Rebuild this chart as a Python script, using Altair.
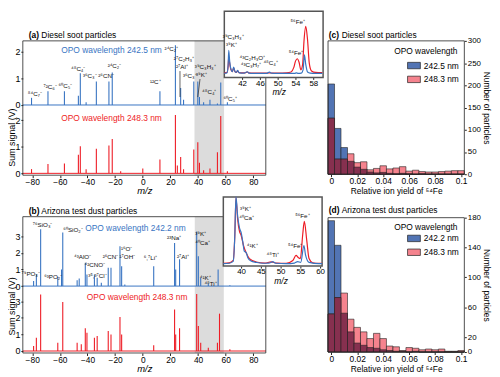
import altair as alt
import pandas as pd

FONT = "Liberation Sans"
BLUE = "#3874c2"
RED = "#ee1c25"
HB = "#5274b4"
HR = "#f5838e"
HO = "#86304f"
W, H = 490, 367

# ---------------- panel (a): diesel soot spectra (peak m/z, height in V) ----------------
a_blue_mz = [-80.5, -68.6, -56.7, -46.6, -45.2, -41.0, -33.6, -24.5, -22.1,
             12.4, 23.6, 27.4, 29.5, 36.9, 39.8, 41.0, 44.0, 48.6, 54.0, 56.4, 61.2]
a_blue_v = [0.27, 0.52, 0.52, 0.35, 1.2, 0.1, 0.89, 0.89, 1.23,
            0.52, 2.25, 0.64, 0.2, 0.89, 0.89, 0.3, 0.1, 0.2, 0.06, 0.85, 0.1]
a_red_mz = [-80.5, -68.6, -56.7, -46.6, -45.2, -41.0, -33.6, -24.5, -22.1, -16.0, 0.0,
            12.4, 23.6, 25.0, 27.4, 29.5, 36.9, 39.8, 41.0, 44.0, 48.6, 54.0, 56.4, 61.2]
a_red_v = [0.16, 0.35, 0.37, 0.7, 1.02, 0.15, 0.93, 1.05, 1.3, 0.08, 0.18,
           0.52, 2.2, 0.3, 0.62, 0.15, 0.9, 1.17, 0.4, 0.12, 0.18, 0.8, 2.16, 0.08]
a_lab_t = ["⁸⁴C₇⁻", "⁷²C₆⁻", "⁶⁰C₅⁻", "⁴⁸C₄⁻", "³⁶C₃⁻ ²⁶CN⁻", "²⁴C₂⁻", "¹²C⁺", "²⁴C₂⁺",
           "²⁷C₂H₃⁺", "²⁷Al⁺", "³⁶C₃⁺", "³⁹C₃H₃⁺", "³⁹K⁺", "⁴⁸C₄⁺", "⁶⁰C₅⁺"]
a_lab_x = [-78.1, -67.1, -56.0, -46.7, -32.1, -20.5, 9.0, 20.7, 29.8, 28.3, 34.0, 45.2, 42.4, 48.1, 63.3]
a_lab_y = [0.42, 0.67, 0.70, 1.35, 1.11, 1.47, 0.86, 2.12, 1.75, 1.44, 1.11, 1.42, 1.14, 0.49, 0.21]

# inset (a)
ia_blue_mz = [38.0, 38.6, 38.85, 39.0, 39.2, 39.5, 39.8, 40.1, 40.4, 40.7, 41.0, 41.3, 41.8, 42.5,
              42.9, 43.2, 43.5, 44.5, 46.0, 47.5, 47.9, 48.2, 48.5, 50.0, 52.0, 53.8, 54.2, 54.6,
              55.3, 55.7, 56.0, 56.3, 56.7, 57.3, 58.5, 60.0]
ia_blue_v = [0.04, 0.06, 0.4, 1.1, 0.6, 0.22, 0.12, 0.33, 0.12, 0.08, 0.18, 0.07, 0.05, 0.05,
             0.09, 0.11, 0.05, 0.04, 0.04, 0.04, 0.07, 0.1, 0.05, 0.04, 0.04, 0.04, 0.06, 0.04,
             0.05, 0.2, 0.89, 0.45, 0.1, 0.05, 0.04, 0.04]
ia_red_mz = [38.0, 38.6, 38.85, 39.0, 39.2, 39.5, 39.8, 40.1, 40.4, 40.7, 41.0, 41.3, 41.8, 42.5,
             42.9, 43.2, 43.5, 44.5, 46.0, 47.5, 48.2, 48.8, 50.0, 52.0, 53.0, 53.6, 54.0, 54.4,
             54.8, 55.2, 55.6, 55.9, 56.3, 56.7, 57.1, 57.6, 58.5, 60.0]
ia_red_v = [0.06, 0.08, 0.35, 0.8, 0.5, 0.2, 0.12, 0.28, 0.12, 0.08, 0.15, 0.07, 0.06, 0.06,
            0.08, 0.1, 0.06, 0.05, 0.05, 0.05, 0.06, 0.05, 0.05, 0.06, 0.1, 0.3, 0.6, 0.71,
            0.55, 0.2, 0.45, 1.5, 2.2, 1.6, 0.5, 0.15, 0.08, 0.07]
ia_lab_t = ["³⁹C₃H₃⁺", "³⁹K⁺", "⁴³C₂H₃O⁺", "⁴³C₃H₇⁺", "⁴⁸C₄⁺", "⁵⁴Fe⁺", "⁵⁶Fe⁺"]
ia_lab_x = [40.0, 39.6, 44.3, 44.0, 48.4, 54.1, 54.5]
ia_lab_y = [1.71, 1.36, 0.75, 0.4, 0.5, 0.99, 2.4]

# ---------------- panel (b): Arizona test dust spectra ----------------
b_blue_mz = [-79.0, -77.0, -73.9, -61.5, -58.8, -57.9, -47.5, -46.0, -41.6, -40.4, -35.0, -33.0,
             -30.0, -25.0, -23.0, -16.5, -15.3, -13.0, 7.9, 23.0, 23.8, 26.6, 39.0, 40.2, 41.9,
             47.4, 54.5, 63.0]
b_blue_v = [0.3, 0.72, 3.42, 0.56, 1.0, 3.23, 0.35, 0.45, 1.4, 0.7, 0.7, 0.5,
            0.2, 1.1, 1.1, 2.4, 1.2, 0.1, 1.2, 2.6, 1.0, 1.62, 3.29, 1.8, 0.5,
            0.15, 1.0, 0.05]
b_red_mz = [-79.0, -77.0, -73.9, -61.5, -57.9, -47.5, -44.5, -41.6, -40.4, -35.0, -33.0, -25.0,
            -23.0, -16.5, -15.3, 7.9, 23.0, 23.8, 26.6, 39.0, 40.2, 41.9, 47.4, 54.0, 55.5, 63.0]
b_red_v = [0.3, 0.8, 3.4, 0.5, 2.95, 0.5, 0.4, 1.37, 1.1, 0.8, 0.9, 1.2,
           1.0, 2.05, 1.0, 0.35, 2.5, 1.0, 1.37, 3.43, 1.5, 0.5, 0.2, 0.5, 2.25, 0.1]
b_lab_t = ["⁷⁹PO₃⁻", "⁷⁶SiO₃⁻", "⁶³PO₂⁻", "⁶⁰SiO₂⁻", "⁴³AlO⁻", "⁴²CNO⁻", "³⁵,³⁷Cl⁻", "²⁶CN⁻",
           "¹⁶O⁻", "¹⁷OH⁻", "⁶,⁷Li⁺", "²³Na⁺", "²⁷Al⁺", "³⁹K⁺", "⁴⁰Ca⁺", "⁴¹K⁺", "⁴⁸Ti⁺"]
b_lab_x = [-81.1, -72.5, -64.8, -50.5, -43.5, -34.7, -32.8, -23.4, -11.7, -11.2, 5.5, 22.7, 29.0,
           41.9, 43.3, 45.2, 49.0]
b_lab_y = [0.72, 3.66, 0.56, 3.38, 1.78, 1.26, 0.62, 1.78, 2.26, 1.78, 1.72, 2.88, 1.78,
           3.13, 2.61, 0.5, 0.12]

# inset (b)
ib_blue_mz = [35.5, 37.0, 38.0, 38.4, 38.7, 39.1, 39.6, 40.0, 40.4, 40.8, 41.3, 41.7, 42.5, 43.8,
              45.4, 47.0, 47.6, 48.0, 48.8, 51.4, 53.5, 54.3, 55.1, 55.9, 56.3, 57.2, 59.7, 60.5]
ib_blue_v = [0.03, 0.05, 0.15, 1.5, 3.6, 2.63, 1.93, 1.7, 1.23, 0.7, 0.62, 0.35, 0.17, 0.1,
             0.05, 0.06, 0.1, 0.14, 0.05, 0.03, 0.06, 0.14, 0.1, 1.0, 0.5, 0.1, 0.03, 0.03]
ib_red_mz = [35.5, 37.0, 38.0, 38.4, 38.7, 39.1, 39.6, 40.0, 40.6, 41.3, 42.1, 43.8, 46.0, 47.6,
             49.0, 51.4, 53.1, 53.9, 54.5, 55.0, 55.6, 56.0, 56.6, 57.2, 58.1, 59.7, 60.5]
ib_red_v = [0.05, 0.07, 0.2, 1.5, 3.55, 2.45, 1.75, 1.55, 1.0, 0.6, 0.3, 0.12, 0.06, 0.12,
            0.06, 0.05, 0.2, 0.47, 0.35, 0.3, 1.6, 2.3, 1.3, 0.3, 0.08, 0.05, 0.05]
ib_lab_t = ["³⁹K⁺", "⁴⁰Ca⁺", "⁴¹K⁺", "⁴⁸Ti⁺", "⁵⁴Fe⁺", "⁵⁶Fe⁺"]
ib_lab_x = [41.1, 41.4, 42.8, 48.0, 53.7, 55.5]
ib_lab_y = [2.93, 2.46, 0.96, 0.49, 0.96, 2.6]

# ---------------- histograms (bin centers, counts) ----------------
bins = [0, 0.005, 0.01, 0.015, 0.02, 0.025, 0.03, 0.035, 0.04, 0.045, 0.05,
        0.055, 0.06, 0.065, 0.07, 0.075, 0.08, 0.085, 0.09, 0.095, 0.1]
c_blue = [203, 103, 60, 29, 16, 11, 5, 3, 4, 2, 1, 2, 1, 0, 1, 0, 0, 0, 0, 0, 0]
c_red = [126, 34, 34, 46, 26, 28, 10, 13, 19, 12, 14, 17, 7, 9, 6, 5, 5, 6, 7, 8, 8]
d_blue = [176, 143, 52, 27, 12, 9, 6, 5, 3, 2, 1, 1, 0, 1, 0, 0, 0, 0, 0, 0, 0]
d_red = [51, 73, 79, 44, 33, 27, 18, 25, 18, 8, 7, 2, 6, 5, 3, 4, 3, 4, 1, 1, 2]
HALF = 0.0025

OFF_A = 2.58
OFF_B = 3.91
XMIN = -86.8


def S(domain, rng):
    return alt.Scale(domain=domain, range=rng, nice=False, zero=False)


XA = S([XMIN, 89], [15, 261]); YA = S([-0.07, 5.0], [167, 31])
XB = S([XMIN, 89], [15, 261]); YB = S([-0.12, 8.09], [347, 209])
XC = S([-0.0025, 0.1025], [324, 462]); YC = S([0, 300], [166, 31])
XD = S([-0.0025, 0.1025], [324, 462]); YD = S([0, 180], [346, 210])
XIA = S([38, 60.2], [219, 319]); YIA = S([-0.15, 2.9], [68, 1])
XIB = S([35.5, 60.5], [218, 318]); YIB = S([-0.1, 3.6], [259, 189])

ONE = pd.DataFrame({"k": [0]})


class P:
    """scales and axes of one panel (every layer of a panel carries the same axes)"""
    def __init__(self, xs, ys, xa=None, ya=None):
        self.xs, self.ys, self.xa, self.ya = xs, ys, xa, ya


def box(p, xd, yd, fill="transparent", stroke="#222", sw=0.8):
    return alt.Chart(ONE).mark_rect(fill=fill, stroke=stroke, strokeWidth=sw).encode(
        x=alt.XDatum(xd[0], scale=p.xs, axis=p.xa), x2=alt.X2Datum(xd[1]),
        y=alt.YDatum(yd[0], scale=p.ys, axis=p.ya), y2=alt.Y2Datum(yd[1]))


def texts(p, xv, yv, tv, **mk):
    df = pd.DataFrame({"x": xv, "y": yv, "t": tv})
    return alt.Chart(df).mark_text(font=FONT, **mk).encode(
        x=alt.X("x:Q", scale=p.xs, axis=p.xa), y=alt.Y("y:Q", scale=p.ys, axis=p.ya), text="t:N")


def peaks(p, mz, v, base, color):
    df = pd.DataFrame({"mz": mz, "y0": [base] * len(mz), "y1": [base + h for h in v]})
    return alt.Chart(df).mark_rule(color=color, strokeWidth=1.1).encode(
        x=alt.X("mz:Q", scale=p.xs, axis=p.xa), y=alt.Y("y0:Q", scale=p.ys, axis=p.ya), y2="y1:Q")


def baseline(p, xd, base, color):
    return alt.Chart(ONE).mark_rule(color=color, strokeWidth=1.0).encode(
        x=alt.XDatum(xd[0], scale=p.xs, axis=p.xa), x2=alt.X2Datum(xd[1]),
        y=alt.YDatum(base, scale=p.ys, axis=p.ya))


def inset_line(p, mz, v, color):
    df = pd.DataFrame({"mz": mz, "v": v})
    return alt.Chart(df).mark_line(color=color, strokeWidth=1.2, interpolate="monotone").encode(
        x=alt.X("mz:Q", scale=p.xs, axis=p.xa), y=alt.Y("v:Q", scale=p.ys, axis=p.ya))


def spec_xaxis(off):
    return alt.Axis(orient="bottom", offset=off, values=[-80, -60, -40, -20, 0, 20, 40, 60, 80],
                    title="m/z", titleFontStyle="italic", titleFontWeight="normal", titleFontSize=9.5,
                    titlePadding=0, labelFontSize=8.5, labelPadding=0, tickSize=2.5, domain=False,
                    grid=False, labelOverlap=False)


def spec_yaxis(vals, off):
    expr = (f"datum.value > {off - 0.3} ? format(datum.value - {off}, '.0f') : "
            f"format(datum.value, '.0f')")
    return alt.Axis(orient="left", offset=-15, values=vals, labelExpr=expr, title=None,
                    labelFontSize=9, tickSize=2, labelPadding=1, domain=False, grid=False,
                    labelOverlap=False)


def inset_xaxis(off, vals, tx):
    return alt.Axis(orient="bottom", offset=off, values=vals, title="m/z", titleFontStyle="italic",
                    titleFontWeight="normal", titleFontSize=8.5, titlePadding=0.5, titleX=tx,
                    labelFontSize=8, labelPadding=0, tickSize=2, domain=False, grid=False,
                    labelOverlap=False)


# ---------------- panel (a) ----------------
pA = P(XA, YA, spec_xaxis(-200), spec_yaxis([0, 1, 2, OFF_A, OFF_A + 1, OFF_A + 2], OFF_A))
panelA = alt.layer(
    box(pA, [37.4, 58.8], [-0.07, 5.0], fill="#dcdcdc", stroke="transparent", sw=0),
    baseline(pA, [XMIN, 89], OFF_A, BLUE),
    baseline(pA, [XMIN, 89], 0, RED),
    peaks(pA, a_blue_mz, a_blue_v, OFF_A, BLUE),
    peaks(pA, a_red_mz, a_red_v, 0, RED),
    alt.Chart(pd.DataFrame({"x": [26.9, 41.4], "x2": [26.9, 39.8],
                            "y": [OFF_A + 1.28, OFF_A + 0.98], "y2": [OFF_A + 0.3, OFF_A + 0.3]}))
    .mark_rule(color="#222", strokeWidth=0.7).encode(
        x=alt.X("x:Q", scale=XA, axis=pA.xa), x2="x2:Q",
        y=alt.Y("y:Q", scale=YA, axis=pA.ya), y2="y2:Q"),
    box(pA, [XMIN, 89], [-0.07, 5.0]),
    texts(pA, a_lab_x, [OFF_A + v for v in a_lab_y], a_lab_t, fontSize=6.3, color="#111"),
    texts(pA, [-22.6], [OFF_A + 2.06], ["OPO wavelength 242.5 nm"], fontSize=8.5, color=BLUE),
    texts(pA, [-22.6], [2.1], ["OPO wavelength 248.3 nm"], fontSize=8.5, color=RED),
    texts(pA, [-82.5], [5.12], ["(a)"], fontSize=8.5, fontWeight="bold", align="left",
          baseline="alphabetic", color="black"),
    texts(pA, [-73.4], [5.12], ["Diesel soot particles"], fontSize=8.5, align="left",
          baseline="alphabetic", color="black"),
    texts(pA, [-94.3], [1.35], ["Sum signal (V)"], fontSize=9, angle=270, color="black"),
)

pIA = P(XIA, YIA, inset_xaxis(-299, [42, 46, 50, 54, 58], 274), None)
insetA = alt.layer(
    box(pIA, [38, 60.2], [-0.15, 2.9], fill="white", stroke="#555", sw=1.5),
    inset_line(pIA, ia_red_mz, ia_red_v, RED),
    inset_line(pIA, ia_blue_mz, ia_blue_v, BLUE),
    texts(pIA, ia_lab_x, ia_lab_y, ia_lab_t, fontSize=6.3, color="#111"),
)

# ---------------- panel (b) ----------------
pB = P(XB, YB, spec_xaxis(-20),
       spec_yaxis([0, 1, 2, 3, OFF_B, OFF_B + 1, OFF_B + 2, OFF_B + 3], OFF_B))
panelB = alt.layer(
    box(pB, [37.6, 58.6], [-0.12, 8.09], fill="#dcdcdc", stroke="transparent", sw=0),
    baseline(pB, [XMIN, 89], OFF_B, BLUE),
    baseline(pB, [XMIN, 89], 0, RED),
    peaks(pB, b_blue_mz, b_blue_v, OFF_B, BLUE),
    peaks(pB, b_red_mz, b_red_v, 0, RED),
    box(pB, [XMIN, 89], [-0.12, 8.09]),
    texts(pB, b_lab_x, [OFF_B + v for v in b_lab_y], b_lab_t, fontSize=6.3, color="#111"),
    texts(pB, [-5.3], [OFF_B + 3.52], ["OPO wavelength 242.2 nm"], fontSize=8.5, color=BLUE),
    texts(pB, [-4.1], [3.27], ["OPO wavelength 248.3 nm"], fontSize=8.5, color=RED),
    texts(pB, [-82.5], [8.27], ["(b)"], fontSize=8.5, fontWeight="bold", align="left",
          baseline="alphabetic", color="black"),
    texts(pB, [-73.4], [8.27], ["Arizona test dust particles"], fontSize=8.5, align="left",
          baseline="alphabetic", color="black"),
    texts(pB, [-94.3], [2.68], ["Sum signal  (V)"], fontSize=9, angle=270, color="black"),
)

pIB = P(XIB, YIB, inset_xaxis(-108, [40, 45, 50, 55, 60], 276), None)
insetB = alt.layer(
    box(pIB, [35.5, 60.5], [-0.1, 3.6], fill="white", stroke="#555", sw=1.5),
    inset_line(pIB, ib_red_mz, ib_red_v, RED),
    inset_line(pIB, ib_blue_mz, ib_blue_v, BLUE),
    texts(pIB, ib_lab_x, ib_lab_y, ib_lab_t, fontSize=6.3, color="#111"),
)


# ---------------- histograms ----------------
def hist_panel(xs, ys, nb, nr, lb, lr, ymax, yvals, xoff, legy, title_lbl, title_txt, ttl_y, opo_y):
    xaxis = alt.Axis(orient="bottom", offset=xoff, values=[0, 0.02, 0.04, 0.06, 0.08, 0.1],
                     format="~g", title="Relative ion yield of ⁵⁴Fe", titleFontWeight="normal",
                     titleFontSize=8.5, titlePadding=1.5, labelFontSize=8.5, labelPadding=0,
                     tickSize=2.5, domain=False, grid=False, labelOverlap=False)
    yaxis = alt.Axis(orient="right", offset=-28, values=yvals, title="Number of particles",
                     titleFontWeight="normal", titleFontSize=8.5, titlePadding=1,
                     labelFontSize=8, labelPadding=1, tickSize=2, domain=False, grid=False,
                     labelOverlap=False)
    p = P(xs, ys, xaxis, yaxis)
    long = pd.DataFrame({
        "x0": [c - HALF for c in bins] * 2,
        "x1": [c + HALF for c in bins] * 2,
        "n": nb + nr,
        "wl": [lb] * len(bins) + [lr] * len(bins),
    })
    wide = pd.DataFrame({"x0": [c - HALF for c in bins], "x1": [c + HALF for c in bins],
                         "b": nb, "r": nr})
    bars = alt.Chart(long).mark_rect(stroke="#222", strokeWidth=0.6).encode(
        x=alt.X("x0:Q", scale=xs, axis=xaxis), x2="x1:Q",
        y=alt.Y("n:Q", scale=ys, axis=yaxis), y2=alt.Y2Datum(0),
        color=alt.Color("wl:N", scale=alt.Scale(domain=[lb, lr], range=[HB, HR]),
                        legend=alt.Legend(orient="none", legendX=404, legendY=legy, title=None,
                                          direction="vertical",
                                          symbolType="M-1,-0.5H1V0.5H-1Z", symbolSize=169,
                                          symbolStrokeColor="#222", symbolStrokeWidth=0.7,
                                          labelFontSize=8.5, labelOffset=3, rowPadding=2,
                                          padding=0, offset=0, labelFont=FONT)),
    )
    over = alt.Chart(wide).transform_calculate(m="min(datum.b, datum.r)").mark_rect(
        fill=HO, stroke="#222", strokeWidth=0.6).encode(
        x=alt.X("x0:Q", scale=xs, axis=xaxis), x2="x1:Q",
        y=alt.Y("m:Q", scale=ys, axis=yaxis), y2=alt.Y2Datum(0))
    frame = box(p, [-0.0025, 0.1025], [0, ymax])
    return alt.layer(
        bars, over, frame,
        texts(p, [-0.0019], [ttl_y], [title_lbl], fontSize=8.5, fontWeight="bold",
              align="left", baseline="alphabetic", color="black"),
        texts(p, [0.0080], [ttl_y], [title_txt], fontSize=8.5, align="left",
              baseline="alphabetic", color="black"),
        texts(p, [0.0972], [opo_y], ["OPO wavelength"], fontSize=8.5, align="right",
              color="black"),
    )


panelC = hist_panel(XC, YC, c_blue, c_red, "242.5 nm", "248.3 nm", 300,
                    [0, 50, 100, 150, 200, 250, 300], -201, 49, "(c)", "Diesel soot particles",
                    306.7, 277)
panelD = hist_panel(XD, YD, d_blue, d_red, "242.2 nm", "248.3 nm", 180,
                    [0, 20, 60, 100, 140, 180], -21, 224, "(d)", "Arizona test dust particles",
                    186.6, 167.2)

chart = alt.layer(panelA, insetA, panelB, insetB, panelC, panelD).resolve_scale(
    x="independent", y="independent", color="independent"
).properties(
    width=W, height=H, padding=0, autosize=alt.AutoSizeParams(type="none")
).configure_view(stroke=None).configure_axis(
    labelFont=FONT, titleFont=FONT, labelColor="black", titleColor="black", tickColor="#222"
).configure_legend(labelFont=FONT, titleFont=FONT)

chart.save("out.html", embed_options={"renderer": "svg", "actions": False})
